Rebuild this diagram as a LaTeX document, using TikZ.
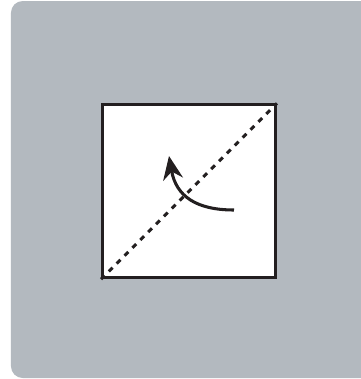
\documentclass[tikz,border=0pt]{standalone}
\usetikzlibrary{arrows.meta,positioning}
\definecolor{panelgray}{RGB}{179,185,191}
\definecolor{inkblack}{RGB}{35,31,32}
\tikzset{
  >=Stealth,
  sheet/.style={draw=inkblack, line width=2.5pt, fill=white, minimum size=5.19cm, inner sep=0pt},
  foldline/.style={draw=inkblack, line width=2.6pt, dash pattern=on 4.5pt off 5pt},
  turnarrow/.style={->, >={Stealth[length=20pt,width=17pt]}, draw=inkblack, line width=2.6pt},
}

\begin{document}
\begin{tikzpicture}[x=0.03cm,y=-0.03cm]
\useasboundingbox (0,0) rectangle (361,379);
\fill[panelgray, rounded corners=10pt] (11,1) rectangle (385,378);

\node[sheet] (paper) at (189,191.3) {};

\coordinate (turnfrom) at (234,210);
\coordinate (turnto) at (169,156);

\draw[foldline] (paper.south west) -- (paper.north east);
\draw[turnarrow] (turnfrom) .. controls (196,210) and (176,196) .. (turnto);

\end{tikzpicture}
\end{document}
